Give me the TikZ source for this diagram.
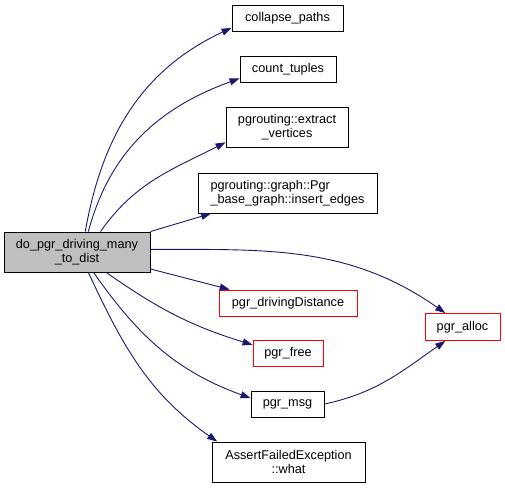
\documentclass[tikz,border=0pt]{standalone}
\usepackage{fontspec}
\setmainfont{Liberation Sans}
\usepackage{xcolor}
\usetikzlibrary{arrows.meta}
\definecolor{edgeblue}{RGB}{25,25,112}
\definecolor{callerfill}{RGB}{191,191,191}

\begin{document}
\begin{tikzpicture}[
  x=1pt, y=1pt,
  font=\fontsize{12.7}{14.5}\selectfont,
  box/.style={draw=black,line width=0.9pt,fill=white,minimum height=26pt,inner sep=0pt,align=center},
  twobox/.style={box,minimum height=40pt},
  callerbox/.style={twobox,fill=callerfill},
  redbox/.style={box,draw=red},
  arr/.style={-{Triangle[length=10pt,width=7pt]},draw=edgeblue,fill=none,line width=0.9pt}
]
  \useasboundingbox (0,0) rectangle (505,-489);

  \node[callerbox, minimum width=146pt] (caller) at (77,-252) {do\_pgr\_driving\_many\\\_to\_dist};

  \node[box, minimum width=111pt] (collapse) at (287.5,-18) {collapse\_paths};
  \node[box, minimum width=96pt] (count) at (288,-69) {count\_tuples};
  \node[twobox, minimum width=122pt] (extract) at (287,-127) {pgrouting::extract\\\_vertices};
  \node[twobox, minimum width=179pt, align=left] (insert) at (287.5,-193) {pgrouting::graph::Pgr\\\_base\_graph::insert\_edges};
  \node[redbox, minimum width=138pt] (dd) at (288,-303) {pgr\_drivingDistance};
  \node[redbox, minimum width=70pt] (free) at (288,-353) {pgr\_free};
  \node[redbox, minimum width=75pt, minimum height=27pt] (alloc) at (462.5,-327) {pgr\_alloc};
  \node[box, minimum width=73pt] (msg) at (287.5,-404) {pgr\_msg};
  \node[twobox, minimum width=153pt] (assert) at (288.5,-462) {AssertFailedException\\::what};

  \draw[arr] (caller.68) to[out=80,in=205] (collapse.190);
  \draw[arr] (caller.61) to[out=75,in=200] (count.191);
  \draw[arr] (caller.41) to[out=55,in=207] (extract.194);
  \draw[arr] (caller.north east) -- (insert.195);
  \draw[arr] (caller.2) to[out=0,in=145] (alloc.141);
  \draw[arr] (caller.-13) -- (dd.167);
  \draw[arr] (caller.-35) to[out=-35,in=163] (free.167);
  \draw[arr] (caller.-51) to[out=-55,in=160] (msg.171);
  \draw[arr] (caller.-61) to[out=-65,in=145] (assert.164);
  \draw[arr] (msg.east) to[out=12,in=215] (alloc.219);
\end{tikzpicture}
\end{document}
